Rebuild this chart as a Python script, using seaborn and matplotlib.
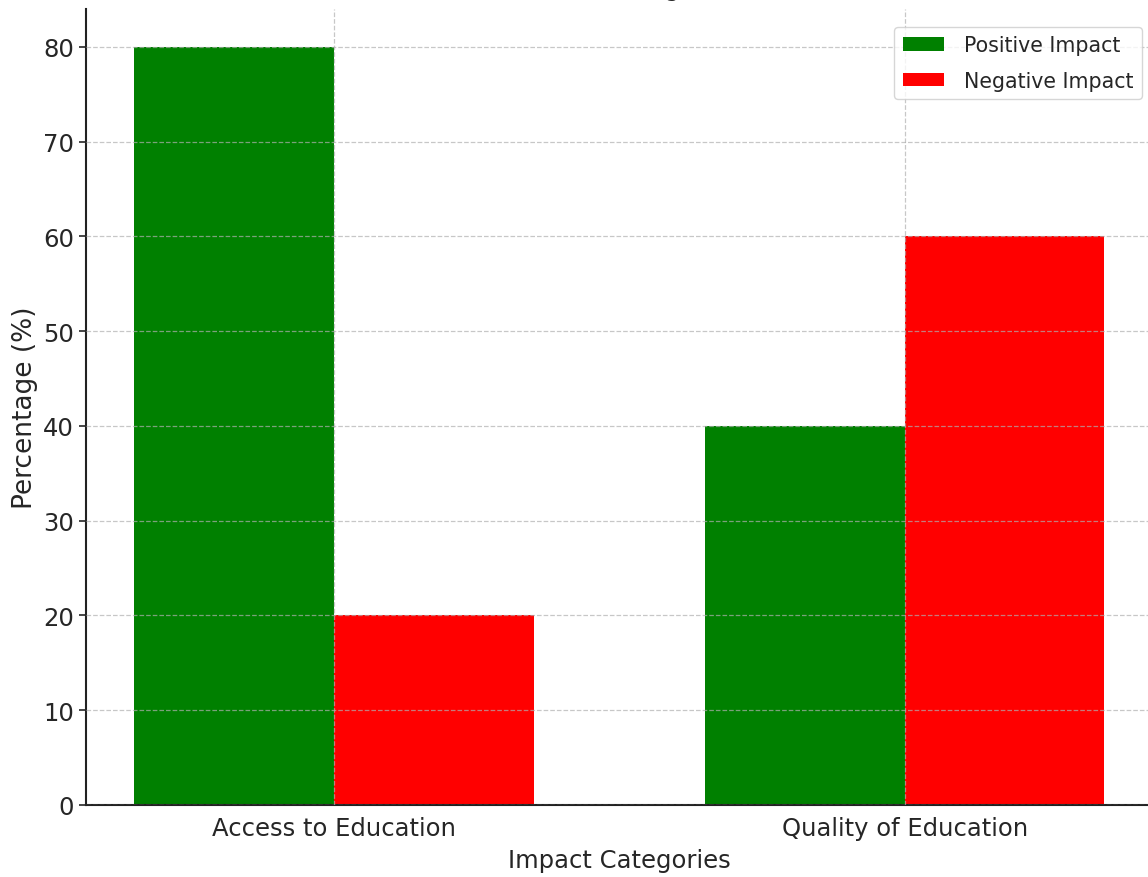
import matplotlib
matplotlib.use("Agg")
import matplotlib.pyplot as plt
import seaborn as sns
import pandas as pd

categories = ["Access to Education", "Quality of Education"]
positive_impact = [80, 40]
negative_impact = [20, 60]
series_names = ["Positive Impact", "Negative Impact"]
colors = ["green", "red"]

df = pd.DataFrame({
    "Category": categories * 2,
    "Impact": [series_names[0]] * len(categories) + [series_names[1]] * len(categories),
    "Percentage": positive_impact + negative_impact,
})

sns.set_style("ticks")
plt.rcParams["font.family"] = ["DejaVu Sans"]
plt.rcParams["text.color"] = "#262626"
plt.rcParams["axes.labelcolor"] = "#262626"
plt.rcParams["xtick.color"] = "#262626"
plt.rcParams["ytick.color"] = "#262626"

fig = plt.figure(figsize=(11.48, 8.78), dpi=100)
ax = fig.add_axes([86 / 1148, (878 - 806) / 878, (1153 - 86) / 1148, (806 - 10) / 878])

sns.barplot(data=df, x="Category", y="Percentage", hue="Impact",
            palette=colors, width=0.7, saturation=1, ax=ax, linewidth=0)

ax.set_xlim(-0.435, 1.435)
ax.set_ylim(0, 84)
ax.grid(True, linestyle="--", color="#b0b0b0", alpha=0.7, linewidth=0.9)
ax.set_axisbelow(False)
for p in ax.patches:
    p.set_zorder(1)

ax.set_xlabel("Impact Categories", fontsize=17.5, labelpad=6)
ax.set_ylabel("Percentage (%)", fontsize=19, labelpad=4)
ax.tick_params(axis="x", labelsize=17.5, length=0, pad=8)
ax.tick_params(axis="y", labelsize=17.5, length=5, width=1.2)
for s in ["left", "bottom"]:
    ax.spines[s].set_linewidth(1.5)
    ax.spines[s].set_color("#222222")
ax.spines["top"].set_visible(False)
ax.spines["right"].set_visible(False)
ax.set_title("Impact of Technology on Education\n(Positive vs Negative)", fontsize=17, pad=10)

leg = ax.legend(loc="upper right", bbox_to_anchor=(1142 / 1148, 1 - 28 / 878),
                bbox_transform=fig.transFigure, borderaxespad=0,
                fontsize=14.8, frameon=True, handlelength=2.0,
                handleheight=0.6, borderpad=0.4, labelspacing=0.75,
                handletextpad=1.0)
leg.get_frame().set_edgecolor("#cccccc")

fig.savefig("out.png", dpi=100)
